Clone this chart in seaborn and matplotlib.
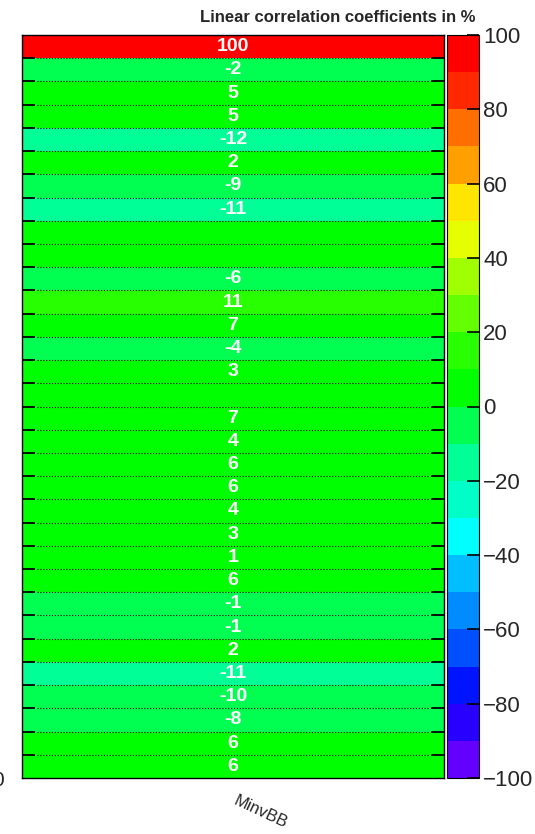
import numpy as np
import pandas as pd
import matplotlib
matplotlib.use("Agg")
import matplotlib.pyplot as plt
from matplotlib.colors import ListedColormap
import seaborn as sns

# Linear correlation (in %) of MinvBB with each input variable, top to bottom
column_name = "MinvBB"
correlations = [100, -2, 5, 5, -12, 2, -9, -11, 0, 0, -6, 11, 7, -4, 3, 0,
                7, 4, 6, 6, 4, 3, 1, 6, -1, -1, 2, -11, -10, -8, 6, 6]
colorbar_ticks = [-100, -80, -60, -40, -20, 0, 20, 40, 60, 80, 100]

# 20-step rainbow palette, from -100 (violet) to +100 (red)
palette = [
    "#6400ff", "#2800ff", "#0014ff", "#0050ff", "#008cff",
    "#00beff", "#00ffff", "#00ffc8", "#00ff96", "#00ff50",
    "#00ff00", "#28ff00", "#64ff00", "#a0ff00", "#e6ff00",
    "#ffe600", "#ffa000", "#ff6e00", "#ff2800", "#ff0000",
]

sns.set_style("white")
plt.rcParams["font.family"] = ["Liberation Sans", "DejaVu Sans"]

df = pd.DataFrame({column_name: correlations},
                  index=[f"row{i}" for i in range(len(correlations))])
labels = np.array([[("" if v == 0 else str(v))] for v in correlations])

W, H = 535, 834
fig = plt.figure(figsize=(W / 100, H / 100), dpi=100)
ax = fig.add_axes([22 / W, 1 - 778 / H, 422 / W, 743 / H])
cax = fig.add_axes([447 / W, 1 - 778 / H, 32 / W, 743 / H])

sns.heatmap(df, ax=ax, cbar_ax=cax, cmap=ListedColormap(palette),
            vmin=-100, vmax=100, annot=labels, fmt="",
            annot_kws=dict(color="white", fontweight="bold", fontsize=14),
            xticklabels=False, yticklabels=False, linewidths=0)

n = len(correlations)
# dotted grid between rows
ax.hlines(np.arange(1, n), 0.035, 0.965, colors="black",
          linestyles=(0, (1, 1.6)), linewidth=0.8, zorder=3)
ax.set_axisbelow(False)
ax.set_yticks(np.arange(1, n))
ax.tick_params(axis="y", which="both", left=True, right=True, direction="in",
               length=9.5, width=1.3, color="black",
               labelleft=False, labelright=False)
ax.set_xticks([])
ax.set_ylabel("")
ax.set_xlabel("")
for side in ["left", "right", "top", "bottom"]:
    ax.spines[side].set_visible(True)
    ax.spines[side].set_color("black")
    ax.spines[side].set_linewidth(1.0)

# colour bar
cax.set_axisbelow(False)
cax.yaxis.set_ticks_position("right")
cax.set_yticks(colorbar_ticks)
cax.tick_params(axis="y", right=True, left=False, direction="in", length=8.5,
                width=1.2, color="black", labelsize=16, pad=3)
cbar = ax.collections[0].colorbar
cbar.outline.set_edgecolor("black")
cbar.outline.set_linewidth(0.8)

fig.text(475 / W, 1 - 18 / H, "Linear correlation coefficients in %",
         ha="right", va="center", fontsize=12, fontweight="bold")
fig.text(261 / W, 1 - 812 / H, column_name, ha="center", va="center",
         rotation=-25, fontsize=12)
fig.text(4 / W, 1 - 780 / H, "0", ha="right", va="center", fontsize=15)

fig.savefig("out.png", dpi=100)
